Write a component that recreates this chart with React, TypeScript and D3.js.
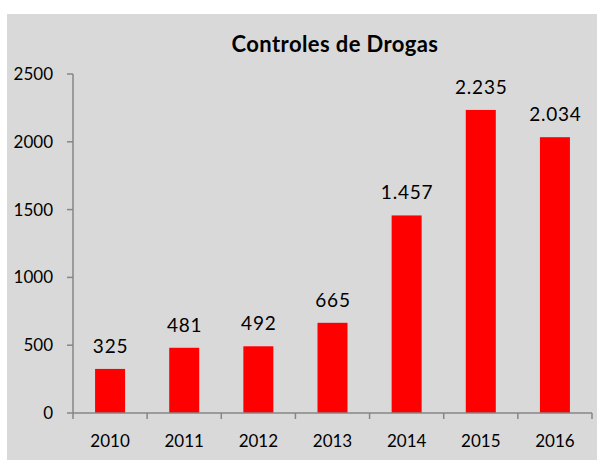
import React from "react";
import * as d3 from "d3";

const years = ["2010", "2011", "2012", "2013", "2014", "2015", "2016"];
const values = [325, 481, 492, 665, 1457, 2235, 2034];
const yTicks = [0, 500, 1000, 1500, 2000, 2500];
const title = "Controles de Drogas";

const W = 597;
const H = 460;
const plot = { left: 73, right: 592, top: 74, bottom: 413 };
const font = "Lato, 'Open Sans', sans-serif";

export default function App() {
  const xb = d3.scaleBand<string>().domain(years).range([plot.left, plot.right]);
  const y = d3.scaleLinear().domain([0, 2500]).range([plot.bottom, plot.top]);
  const fmt = (v: number) => d3.format(",")(v).replace(/,/g, ".");
  const bw = 30;
  return (
    <svg width={W} height={H} style={{ position: "absolute", left: 0, top: 0 }}>
      <rect x={7} y={14} width={W - 7} height={H - 14} fill="#d9d9d9" />
      <text x={335} y={52} textAnchor="middle" fontFamily={font} fontWeight="bold" fontSize={22} letterSpacing={0.4} fill="#000">
        {title}
      </text>
      {values.map((v, i) => {
        const cx = (xb(years[i]) as number) + xb.bandwidth() / 2;
        return (
          <g key={years[i]}>
            <rect x={cx - bw / 2} y={y(v)} width={bw} height={plot.bottom - y(v)} fill="#ff0000" />
            <text x={cx + 0.5} y={y(v) - 16} textAnchor="middle" fontFamily={font} fontSize={19} letterSpacing={0.8} fill="#000">
              {fmt(v)}
            </text>
            <text x={cx} y={447} textAnchor="middle" fontFamily={font} fontSize={17} fill="#000">
              {years[i]}
            </text>
          </g>
        );
      })}
      <line x1={plot.left} x2={plot.left} y1={plot.top} y2={plot.bottom} stroke="#868686" strokeWidth={1.5} />
      <line x1={plot.left} x2={plot.right} y1={plot.bottom} y2={plot.bottom} stroke="#868686" strokeWidth={1.5} />
      {yTicks.map((t) => (
        <g key={t}>
          <line x1={plot.left - 6} x2={plot.left} y1={y(t)} y2={y(t)} stroke="#868686" strokeWidth={1.5} />
          <text x={53} y={y(t) + 6} textAnchor="end" fontFamily={font} fontSize={17} fill="#000">
            {t}
          </text>
        </g>
      ))}
      {years.map((yr) => {
        const bx = (xb(yr) as number) + xb.bandwidth();
        return <line key={yr} x1={bx} x2={bx} y1={plot.bottom} y2={plot.bottom + 6} stroke="#868686" strokeWidth={1.5} />;
      })}
      <line x1={plot.left} x2={plot.left} y1={plot.bottom} y2={plot.bottom + 6} stroke="#868686" strokeWidth={1.5} />
    </svg>
  );
}
